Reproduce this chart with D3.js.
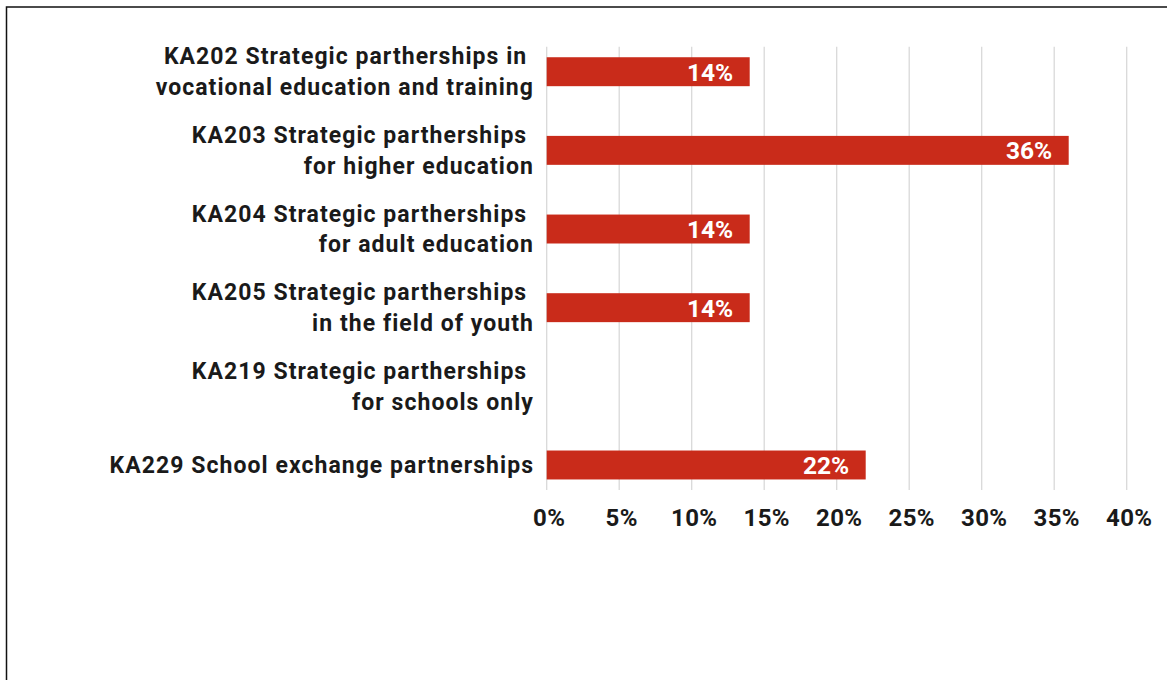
<!DOCTYPE html>
<html>
<head>
<meta charset="utf-8">
<script src="https://cdn.jsdelivr.net/npm/d3@7"></script>
<style>
  html, body { margin: 0; padding: 0; background: #fff; }
  svg { display: block; }
  text { font-family: Roboto, "DejaVu Sans", sans-serif; font-weight: 700; white-space: pre; }
</style>
</head>
<body>
<svg id="chart" width="1167" height="680"></svg>
<script>
// Share of partnerships by action type
const categories = [
  ["KA202 Strategic partherships in ", "vocational education and training"],
  ["KA203 Strategic partherships ", "for higher education"],
  ["KA204 Strategic partherships ", "for adult education"],
  ["KA205 Strategic partherships ", "in the field of youth"],
  ["KA219 Strategic partherships ", "for schools only"],
  ["KA229 School exchange partnerships"]
];
const values = [0.14, 0.36, 0.14, 0.14, null, 0.22];
const xTicks = [0, 0.05, 0.10, 0.15, 0.20, 0.25, 0.30, 0.35, 0.40];

const svg = d3.select("#chart");
const W = 1167, H = 680;

// outer frame
svg.append("rect")
  .attr("x", 6.5).attr("y", 7)
  .attr("width", W + 20).attr("height", H + 20)
  .attr("fill", "none").attr("stroke", "#111").attr("stroke-width", 1.5);

const plot = { left: 546.7, right: 1126.7, top: 46.7, bottom: 490 };

const x = d3.scaleLinear().domain([0, 0.40]).range([plot.left, plot.right]);
const y = d3.scaleBand()
  .domain(d3.range(categories.length))
  .range([plot.top, plot.bottom])
  .paddingInner(0.632)
  .paddingOuter(0.134);

// vertical gridlines
svg.append("g")
  .selectAll("line")
  .data(xTicks)
  .join("line")
  .attr("x1", d => x(d)).attr("x2", d => x(d))
  .attr("y1", plot.top).attr("y2", plot.bottom)
  .attr("stroke", "#d9d9d9").attr("stroke-width", 1.3);

// x axis tick labels
const xAxis = d3.axisBottom(x)
  .tickValues(xTicks)
  .tickFormat(d3.format(".0%"))
  .tickSize(0)
  .tickPadding(0);
const gx = svg.append("g")
  .attr("transform", `translate(0,${plot.bottom})`)
  .call(xAxis);
gx.select(".domain").remove();
gx.selectAll("text")
  .attr("dy", null)
  .attr("y", 36)
  .attr("dx", 2)
  .attr("fill", "#1a1a1a")
  .style("font-size", "24px")
  .style("letter-spacing", "0.4px")
  .style("font-family", "Roboto, sans-serif")
  .style("font-weight", 700);

// bars
const rows = categories.map((c, i) => ({ lines: c, value: values[i], i }));
svg.append("g")
  .selectAll("rect")
  .data(rows.filter(d => d.value != null))
  .join("rect")
  .attr("x", x(0))
  .attr("y", d => y(d.i))
  .attr("width", d => x(d.value) - x(0))
  .attr("height", y.bandwidth())
  .attr("fill", "#c92b1a");

// value labels inside bar ends
svg.append("g")
  .selectAll("text")
  .data(rows.filter(d => d.value != null))
  .join("text")
  .attr("x", d => x(d.value) - 16.5)
  .attr("y", d => y(d.i) + y.bandwidth() / 2 + 9)
  .attr("text-anchor", "end")
  .attr("fill", "#fff")
  .style("font-size", "24.5px")
  .text(d => d3.format(".0%")(d.value));

// category labels
const lineGap = 30.5;
const lab = svg.append("g")
  .selectAll("text")
  .data(rows)
  .join("text")
  .attr("text-anchor", "end")
  .attr("fill", "#1a1a1a")
  .style("font-size", "23px")
  .style("letter-spacing", "1.05px")
  .attr("y", d => y(d.i) + y.bandwidth() / 2 + 8 - (d.lines.length - 1) * lineGap / 2);
lab.selectAll("tspan")
  .data(d => d.lines)
  .join("tspan")
  .attr("x", 534)
  .attr("dy", (d, j) => j === 0 ? 0 : lineGap)
  .text(d => d);
</script>
</body>
</html>
